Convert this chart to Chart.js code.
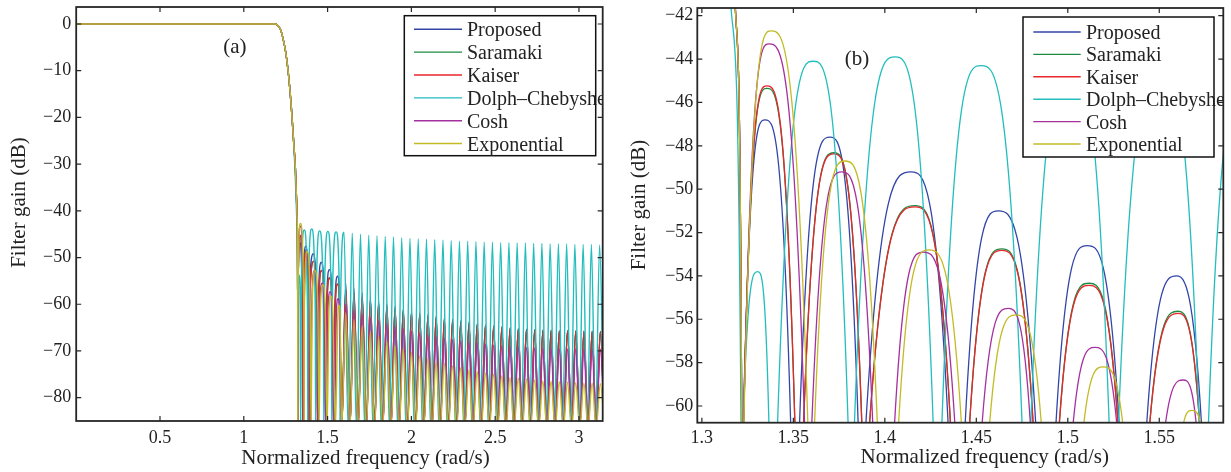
<!DOCTYPE html>
<html><head><meta charset="utf-8">
<script src="https://cdn.jsdelivr.net/npm/chart.js@4.4.0/dist/chart.umd.min.js"></script>
<style>
html,body{margin:0;padding:0;background:#fff;}
#wrap{position:relative;width:1231px;height:472px;overflow:hidden;}
#ca{position:absolute;left:0;top:0;}
#cb{position:absolute;left:615px;top:0;}
</style></head><body>
<div id="wrap"><canvas id="ca" width="615" height="472"></canvas><canvas id="cb" width="616" height="472"></canvas></div>
<script>
// ---------------- DATA ----------------
const seriesNames = ['Proposed','Saramaki','Kaiser','Dolph\u2013Chebyshev','Cosh','Exponential'];

// level used for the deep nulls (just below the bottom of both y axes)
const BELOW = -86.5;

// passband + transition band (shared by Proposed, Saramaki, Kaiser, Cosh, Exponential)
const transX = [0, 1.188, 1.205, 1.22, 1.232, 1.25, 1.268, 1.285, 1.298, 1.308, 1.3135, 1.3185, 1.3218];
const transY = [0, 0, -0.4, -1.3, -2.8, -6.0, -11.3, -18.5, -25.5, -31.0, -36.3, -42.0, -61.0];
// Dolph-Chebyshev transition
const dolphTransX = [0, 1.188, 1.205, 1.22, 1.232, 1.25, 1.268, 1.285, 1.298, 1.306, 1.3115, 1.3163, 1.3214];
const dolphTransY = [0, 0, -0.4, -1.3, -2.8, -6.0, -11.3, -18.5, -25.5, -31.5, -37.0, -42.0, -61.0];

// first stopband lobes; -86.5 marks a null below the axes
const propNearX = [1.3222, 1.3226, 1.3345, 1.3486, 1.3510, 1.3533, 1.3700, 1.3855, 1.3872, 1.3895, 1.4143, 1.4347, 1.4392, 1.4438, 1.4620, 1.4826, 1.4880, 1.4934, 1.5107, 1.5282, 1.5356, 1.5430, 1.5595, 1.5732, 1.5840];
const propNearY = [-86.5, -61, -46.8, -61, -86.5, -61, -47.6, -61, -86.5, -61, -49.2, -61, -86.5, -61, -51.0, -61, -86.5, -61, -52.6, -61, -86.5, -61, -54.0, -61, -86.5];
const sarkNearX = [1.3222, 1.3227, 1.3355, 1.3509, 1.3530, 1.3555, 1.3722, 1.3875, 1.3892, 1.3915, 1.4165, 1.4360, 1.4411, 1.4462, 1.4639, 1.4812, 1.4882, 1.4952, 1.5116, 1.5276, 1.5361, 1.5446, 1.5604, 1.5722, 1.5840];
const saraNearY = [-86.5, -61, -45.35, -61, -86.5, -61, -48.32, -61, -86.5, -61, -50.76, -61, -86.5, -61, -52.75, -61, -86.5, -61, -54.34, -61, -86.5, -61, -55.63, -61, -86.5];
const kaisNearY = [-86.5, -61, -45.24, -61, -86.5, -61, -48.37, -61, -86.5, -61, -50.82, -61, -86.5, -61, -52.82, -61, -86.5, -61, -54.44, -61, -86.5, -61, -55.73, -61, -86.5];
const coshNearX = [1.3222, 1.3228, 1.3367, 1.3562, 1.3580, 1.3600, 1.3764, 1.3935, 1.3995, 1.4052, 1.4210, 1.4384, 1.4457, 1.4530, 1.4675, 1.4797, 1.4912, 1.5027, 1.5149, 1.5270, 1.5400, 1.5531, 1.5631, 1.5704, 1.5840];
const coshNearY = [-86.5, -61, -43.3, -61, -86.5, -61, -49.2, -61, -86.5, -61, -52.9, -61, -86.5, -61, -55.5, -61, -86.5, -61, -57.3, -61, -86.5, -61, -58.8, -61, -86.5];
const expoNearX = [1.3222, 1.3229, 1.3378, 1.3580, 1.3597, 1.3615, 1.3782, 1.3960, 1.4017, 1.4074, 1.4240, 1.4420, 1.4495, 1.4571, 1.4717, 1.4857, 1.4971, 1.5085, 1.5194, 1.5303, 1.5465, 1.5628, 1.5677, 1.5732, 1.5840];
const expoNearY = [-86.5, -61, -42.7, -61, -86.5, -61, -48.7, -61, -86.5, -61, -52.8, -61, -86.5, -61, -55.8, -61, -86.5, -61, -58.2, -61, -86.5, -61, -60.2, -61, -86.5];
const dolphNearX = [1.3219, 1.3225, 1.3305, 1.3367, 1.3390, 1.3413, 1.3609, 1.3800, 1.3816, 1.3833, 1.4056, 1.4265, 1.4288, 1.4311, 1.4526, 1.4751, 1.4774, 1.4797, 1.5018, 1.5227, 1.5251, 1.5276, 1.5510, 1.5719, 1.5743, 1.5768];
const dolphNearY = [-86.5, -61, -53.8, -61, -86.5, -61, -44.1, -61, -86.5, -61, -43.9, -61, -86.5, -61, -44.3, -61, -86.5, -61, -44.4, -61, -86.5, -61, -44.5, -61, -86.5, -61];

// remaining stopband lobes: peak positions and nulls
const farPeakX = [1.6085, 1.6575, 1.7065, 1.7555, 1.8045, 1.8535, 1.9025, 1.9515, 2.0005, 2.0495, 2.0985, 2.1475, 2.1965, 2.2455, 2.2945, 2.3435, 2.3925, 2.4415, 2.4905, 2.5395, 2.5885, 2.6375, 2.6865, 2.7355, 2.7845, 2.8335, 2.8825, 2.9315, 2.9805, 3.0295, 3.0785, 3.1275];
const farNullX = [1.633, 1.682, 1.731, 1.780, 1.829, 1.878, 1.927, 1.976, 2.025, 2.074, 2.123, 2.172, 2.221, 2.270, 2.319, 2.368, 2.417, 2.466, 2.515, 2.564, 2.613, 2.662, 2.711, 2.760, 2.809, 2.858, 2.907, 2.956, 3.005, 3.054, 3.103, 3.152];
const propFarY = [-55.5, -56.6, -57.6, -58.5, -59.2, -59.9, -60.4, -60.9, -61.4, -61.8, -62.2, -62.5, -62.9, -63.2, -63.5, -63.8, -64.1, -64.4, -64.6, -64.8, -65.0, -65.2, -65.3, -65.4, -65.5, -65.5, -65.6, -65.6, -65.7, -65.7, -65.7, -65.8];
const saraFarY = [-56.7, -57.6, -58.4, -59.1, -59.7, -60.3, -60.8, -61.2, -61.7, -62.1, -62.5, -62.8, -63.2, -63.5, -63.8, -64.1, -64.3, -64.6, -64.8, -65.0, -65.2, -65.3, -65.4, -65.5, -65.6, -65.6, -65.7, -65.7, -65.7, -65.8, -65.8, -65.8];
const kaisFarY = [-56.8, -57.7, -58.5, -59.2, -59.8, -60.4, -60.9, -61.3, -61.8, -62.2, -62.6, -62.9, -63.3, -63.6, -63.9, -64.2, -64.4, -64.7, -64.9, -65.1, -65.3, -65.4, -65.5, -65.6, -65.7, -65.7, -65.8, -65.8, -65.8, -65.9, -65.9, -65.9];
const coshFarY = [-60.0, -61.1, -62.0, -62.8, -63.5, -64.1, -64.7, -65.2, -65.7, -66.1, -66.5, -66.9, -67.2, -67.5, -67.8, -68.0, -68.3, -68.5, -68.7, -68.8, -69.0, -69.1, -69.2, -69.3, -69.4, -69.4, -69.5, -69.5, -69.5, -69.6, -69.6, -69.6];
const expoFarY = [-61.8, -63.3, -64.6, -65.8, -66.9, -67.9, -68.8, -69.6, -70.3, -71.0, -71.6, -72.2, -72.7, -73.2, -73.6, -74.0, -74.4, -74.7, -75.0, -75.3, -75.6, -75.8, -76.0, -76.2, -76.4, -76.5, -76.6, -76.7, -76.8, -76.9, -76.9, -77.0];
const dolphFarPeakX = [1.5980, 1.6472, 1.6964, 1.7456, 1.7948, 1.8440, 1.8932, 1.9424, 1.9916, 2.0408, 2.0900, 2.1392, 2.1884, 2.2376, 2.2868, 2.3360, 2.3852, 2.4344, 2.4836, 2.5328, 2.5820, 2.6312, 2.6804, 2.7296, 2.7788, 2.8280, 2.8772, 2.9264, 2.9756, 3.0248, 3.0740, 3.1232];
const dolphFarNullX = [1.6226, 1.6718, 1.7210, 1.7702, 1.8194, 1.8686, 1.9178, 1.9670, 2.0162, 2.0654, 2.1146, 2.1638, 2.2130, 2.2622, 2.3114, 2.3606, 2.4098, 2.4590, 2.5082, 2.5574, 2.6066, 2.6558, 2.7050, 2.7542, 2.8034, 2.8526, 2.9018, 2.9510, 3.0002, 3.0494, 3.0986, 3.1478];
const dolphFarY = [-44.6, -44.8, -45.0, -45.2, -45.3, -45.5, -45.6, -45.8, -45.9, -46.0, -46.1, -46.2, -46.3, -46.4, -46.5, -46.5, -46.6, -46.7, -46.7, -46.8, -46.8, -46.9, -46.9, -47.0, -47.0, -47.1, -47.1, -47.1, -47.2, -47.2, -47.2, -47.3];

// ticks
const xTicksA = [0.5, 1, 1.5, 2, 2.5, 3];
const xTickLabelsA = ['0.5', '1', '1.5', '2', '2.5', '3'];
const yTicksA = [0, -10, -20, -30, -40, -50, -60, -70, -80];
const yTickLabelsA = ['0', '\u221210', '\u221220', '\u221230', '\u221240', '\u221250', '\u221260', '\u221270', '\u221280'];
const xTicksB = [1.3, 1.35, 1.4, 1.45, 1.5, 1.55];
const xTickLabelsB = ['1.3', '1.35', '1.4', '1.45', '1.5', '1.55'];
const yTicksB = [-42, -44, -46, -48, -50, -52, -54, -56, -58, -60];
const yTickLabelsB = ['\u221242', '\u221244', '\u221246', '\u221248', '\u221250', '\u221252', '\u221254', '\u221256', '\u221258', '\u221260'];

// ---------------- STYLE ----------------
const seriesColors = ['#3346a8', '#1f8a43', '#e8262b', '#22bdbd', '#a5309f', '#c3bb25'];
const SERIF = "'Liberation Serif', 'Times New Roman', serif";
Chart.defaults.font.family = SERIF;
Chart.defaults.color = '#222';

function seg(xs, ys) { return xs.map((x, i) => ({x: x, y: ys[i]})); }
function lobes(px, py, nx) {
  const o = [];
  for (let i = 0; i < px.length; i++) { o.push({x: px[i], y: py[i]}); o.push({x: nx[i], y: BELOW}); }
  return o;
}
const seriesData = [
  seg(transX, transY).concat(seg(propNearX, propNearY), lobes(farPeakX, propFarY, farNullX)),
  seg(transX, transY).concat(seg(sarkNearX, saraNearY), lobes(farPeakX, saraFarY, farNullX)),
  seg(transX, transY).concat(seg(sarkNearX, kaisNearY), lobes(farPeakX, kaisFarY, farNullX)),
  seg(dolphTransX, dolphTransY).concat(seg(dolphNearX, dolphNearY), lobes(dolphFarPeakX, dolphFarY, dolphFarNullX)),
  seg(transX, transY).concat(seg(coshNearX, coshNearY), lobes(farPeakX, coshFarY, farNullX)),
  seg(transX, transY).concat(seg(expoNearX, expoNearY), lobes(farPeakX, expoFarY, farNullX))
];

function datasets(lw) {
  return seriesNames.map((n, i) => ({
    label: n, data: seriesData[i], borderColor: seriesColors[i], borderWidth: lw,
    order: seriesNames.length - i,
    pointRadius: 0, fill: false, cubicInterpolationMode: 'monotone', clip: 0
  }));
}

const matlabPlugin = {
  id: 'matlab',
  afterDatasetsDraw(chart, args, o) {
    const ctx = chart.ctx, a = chart.chartArea, xs = chart.scales.x, ys = chart.scales.y;
    ctx.save();
    // panel label
    ctx.fillStyle = '#222'; ctx.font = '21px ' + SERIF; ctx.textAlign = 'center'; ctx.textBaseline = 'middle';
    ctx.fillText(o.panel.text, xs.getPixelForValue(o.panel.x), ys.getPixelForValue(o.panel.y));
    // legend
    const L = o.legend, bx = a.left + L.dx, by = a.top + L.dy;
    ctx.fillStyle = '#fff'; ctx.fillRect(bx, by, L.w, L.h);
    ctx.strokeStyle = '#111'; ctx.lineWidth = 1.5; ctx.strokeRect(bx, by, L.w, L.h);
    ctx.save();
    ctx.beginPath(); ctx.rect(a.left, a.top, a.right - a.left, a.bottom - a.top); ctx.clip();
    seriesNames.forEach((name, i) => {
      const yy = by + L.row0 + i * L.rowGap;
      ctx.strokeStyle = seriesColors[i]; ctx.lineWidth = 1.4;
      ctx.beginPath(); ctx.moveTo(bx + L.lineX0, yy); ctx.lineTo(bx + L.lineX1, yy); ctx.stroke();
      ctx.fillStyle = '#222'; ctx.font = '20px ' + SERIF; ctx.textAlign = 'left'; ctx.textBaseline = 'alphabetic';
      ctx.fillText(name, bx + L.textX, yy + 7);
    });
    ctx.restore();
    // frame
    ctx.strokeStyle = '#262626'; ctx.lineWidth = 1.8;
    ctx.strokeRect(a.left, a.top, a.right - a.left, a.bottom - a.top);
    // inward ticks on all four sides
    ctx.lineWidth = 1.2; ctx.beginPath();
    xs.ticks.forEach(t => {
      const p = xs.getPixelForValue(t.value);
      ctx.moveTo(p, a.bottom); ctx.lineTo(p, a.bottom - 5);
      ctx.moveTo(p, a.top); ctx.lineTo(p, a.top + 5);
    });
    ys.ticks.forEach(t => {
      const p = ys.getPixelForValue(t.value);
      ctx.moveTo(a.left, p); ctx.lineTo(a.left + 5, p);
      ctx.moveTo(a.right, p); ctx.lineTo(a.right - 5, p);
    });
    ctx.stroke();
    ctx.restore();
  },
  afterDraw(chart, args, o) {
    const ctx = chart.ctx;
    ctx.save();
    ctx.fillStyle = '#222'; ctx.font = '21px ' + SERIF; ctx.textBaseline = 'alphabetic'; ctx.textAlign = 'center';
    ctx.fillText(o.xTitle.text, o.xTitle.cx, o.xTitle.base);
    ctx.translate(o.yTitle.base, o.yTitle.cy); ctx.rotate(-Math.PI / 2);
    ctx.fillText(o.yTitle.text, 0, 0);
    ctx.restore();
  }
};

function makeChart(id, cfg) {
  return new Chart(document.getElementById(id), {
    type: 'line',
    data: {datasets: datasets(cfg.lw)},
    plugins: [matlabPlugin],
    options: {
      responsive: false, animation: false, events: [],
      layout: {padding: cfg.pad},
      plugins: {legend: {display: false}, tooltip: {enabled: false}, matlab: cfg.plug},
      scales: {
        x: {
          type: 'linear', min: cfg.xmin, max: cfg.xmax,
          grid: {display: false, drawTicks: false}, border: {display: false},
          afterBuildTicks: s => { s.ticks = cfg.xt.map(v => ({value: v})); },
          afterFit: s => { s.height = cfg.xh; s.paddingLeft = 0; s.paddingRight = 0; },
          ticks: {autoSkip: false, maxRotation: 0, padding: cfg.xpad, font: {size: 18}, color: '#222',
                  callback: (v, i) => cfg.xl[i]}
        },
        y: {
          type: 'linear', min: cfg.ymin, max: cfg.ymax,
          grid: {display: false, drawTicks: false}, border: {display: false},
          afterBuildTicks: s => { s.ticks = cfg.yt.map(v => ({value: v})); },
          afterFit: s => { s.width = cfg.yw; s.paddingTop = 0; s.paddingBottom = 0; },
          ticks: {autoSkip: false, padding: cfg.ypad, font: {size: 18}, color: '#222',
                  callback: (v, i) => cfg.yl[i]}
        }
      }
    }
  });
}

makeChart('ca', {
  pad: {left: 0, right: 12.3, top: 7, bottom: 0},
  xmin: 0, xmax: Math.PI, ymin: -85, ymax: 3.64,
  xt: xTicksA, xl: xTickLabelsA, yt: yTicksA, yl: yTickLabelsA,
  xh: 51, yw: 76.2, xpad: 6, ypad: 5, lw: 1.4,
  plug: {
    panel: {text: '(a)', x: 0.947, y: -5.1},
    legend: {dx: 328.1, dy: 8.7, w: 191.4, h: 140, row0: 13.6, rowGap: 22.85, lineX0: 9.7, lineX1: 57.7, textX: 62.7},
    xTitle: {text: 'Normalized frequency (rad/s)', cx: 365.5, base: 463.5},
    yTitle: {text: 'Filter gain (dB)', base: 25, cy: 202.5}
  }
});
makeChart('cb', {
  pad: {left: 0, right: 7.7, top: 8, bottom: 0},
  xmin: 1.2975, xmax: 1.585, ymin: -60.77, ymax: -41.645,
  xt: xTicksB, xl: xTickLabelsB, yt: yTicksB, yl: yTickLabelsB,
  xh: 49.3, yw: 82.3, xpad: 5, ypad: 4, lw: 1.3,
  plug: {
    panel: {text: '(b)', x: 1.3848, y: -44.04},
    legend: {dx: 325.7, dy: 9, w: 191, h: 140, row0: 15, rowGap: 22.4, lineX0: 10.3, lineX1: 57.7, textX: 63},
    xTitle: {text: 'Normalized frequency (rad/s)', cx: 369.7, base: 463},
    yTitle: {text: 'Filter gain (dB)', base: 30, cy: 205}
  }
});
</script>
</body></html>
